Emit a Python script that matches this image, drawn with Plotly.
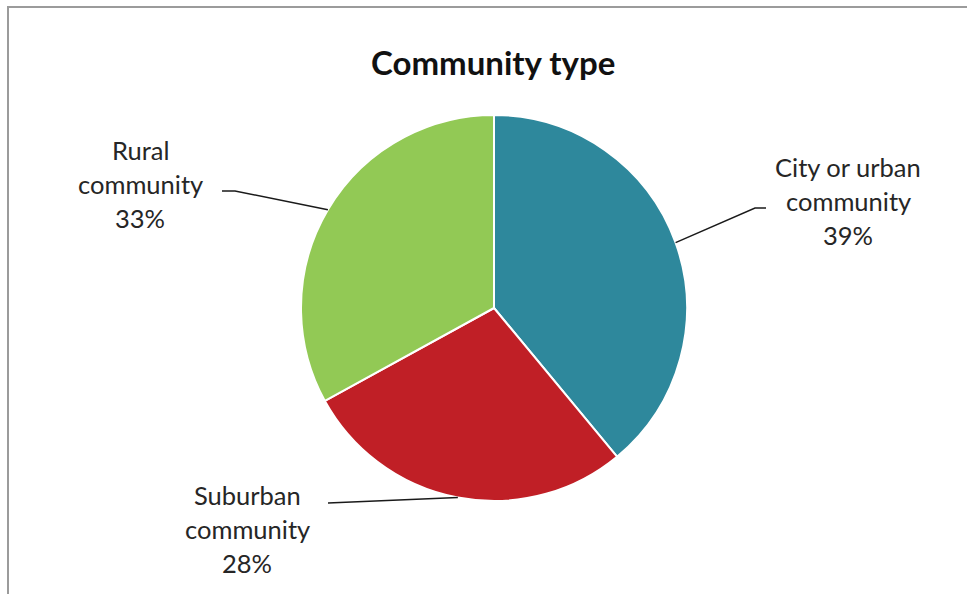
import math
import plotly.graph_objects as go

# Survey breakdown by community type
categories = ["City or urban community", "Suburban community", "Rural community"]
shares = [39, 28, 33]
label_lines = [["City or urban", "community"], ["Suburban", "community"], ["Rural", "community"]]
colors = ["#2E889C", "#C01F26", "#92C955"]

W, H = 967, 594
CX, CY, R = 494, 308, 193          # pie centre and radius in pixels

# label anchor (text centre x, first-line y) and leader elbow per slice
label_pos = [(848, 167), (247, 495), (140, 150)]
elbows = [((755, 208), (766, 208)), ((328, 503), (328, 503)), ((235, 191), (222, 191))]
LINE_GAP = 34


def px(x):
    return x / W


def py(y):
    return 1 - y / H


fig = go.Figure(
    go.Pie(
        labels=categories,
        values=shares,
        sort=False,
        direction="clockwise",
        rotation=0,
        marker=dict(colors=colors, line=dict(color="white", width=2)),
        textinfo="none",
        hoverinfo="label+percent",
        domain=dict(x=[px(CX - R), px(CX + R)], y=[py(CY + R), py(CY - R)]),
        showlegend=False,
    )
)

shapes = []
annotations = []
total = sum(shares)
cum = 0
for i, v in enumerate(shares):
    mid = (cum + v / 2) / total * 2 * math.pi
    cum += v
    sx = CX + R * math.sin(mid)
    sy = CY - R * math.cos(mid)
    (ex, ey), (tx, ty) = elbows[i]
    shapes.append(
        dict(
            type="path",
            xref="paper",
            yref="paper",
            path=f"M {px(sx)} {py(sy)} L {px(ex)} {py(ey)} L {px(tx)} {py(ty)}",
            line=dict(color="#1a1a1a", width=1.5),
        )
    )
    lx, ly = label_pos[i]
    pct = f"{round(v / total * 100)}%"
    for j, t in enumerate(label_lines[i] + [pct]):
        annotations.append(
            dict(
                x=px(lx),
                y=py(ly + j * LINE_GAP),
                xref="paper",
                yref="paper",
                text=t,
                showarrow=False,
                xanchor="center",
                yanchor="middle",
                font=dict(family="Lato", size=25.5, color="#262626"),
            )
        )

# chart frame
shapes.append(
    dict(
        type="rect",
        xref="paper",
        yref="paper",
        x0=px(8),
        y0=py(640),
        x1=px(1000),
        y1=py(7),
        line=dict(color="#9B9B9B", width=2),
        fillcolor="rgba(0,0,0,0)",
        layer="below",
    )
)

annotations.append(
    dict(
        x=px(493),
        y=py(62),
        xref="paper",
        yref="paper",
        text="<b>Community type</b>",
        showarrow=False,
        xanchor="center",
        yanchor="middle",
        font=dict(family="Lato", size=33, color="#111111"),
    )
)

fig.update_layout(
    width=W,
    height=H,
    margin=dict(l=0, r=0, t=0, b=0),
    paper_bgcolor="white",
    plot_bgcolor="white",
    shapes=shapes,
    annotations=annotations,
)

fig.write_html("out.html")
